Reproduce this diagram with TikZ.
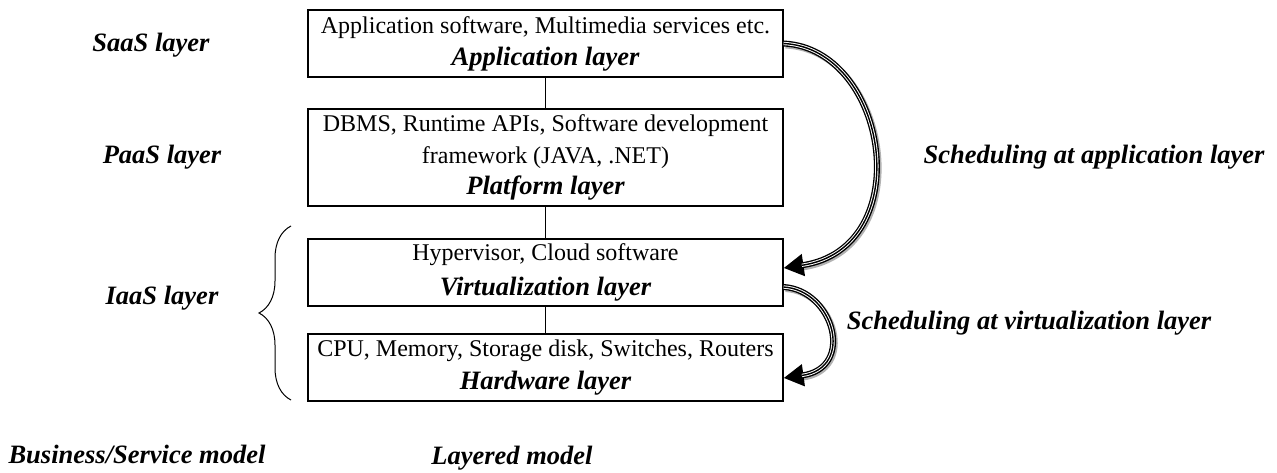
\documentclass[tikz,border=0pt]{standalone}
\usepackage{fontspec}
\setmainfont{Liberation Serif}
\usetikzlibrary{arrows.meta,decorations.pathreplacing}
\newcommand{\bitxt}[1]{{\fontsize{26.5}{31}\selectfont\bfseries\itshape #1}}
\tikzset{
  layerbox/.style={draw, line width=1.2pt, minimum width=475pt, inner sep=0pt, align=center,
    font=\fontsize{24}{32}\selectfont},
  lbl/.style={font=\fontsize{26.5}{30}\selectfont\bfseries\itshape, inner sep=0pt},
  link/.style={line width=1.2pt},
}
\newcommand{\schedarrow}[1]{%
  \draw[gray!60, line width=6pt, shorten >=17pt, transform canvas={shift={(2pt,-2pt)}}] #1;
  \draw[line width=6pt, -{Triangle[length=20pt,width=21pt]}] #1;
  \draw[white, line width=3.3pt, shorten >=18.5pt] #1;
  \draw[black, line width=1.4pt, shorten >=18.5pt] #1;
}
\begin{document}
\begin{tikzpicture}[x=1pt,y=-1pt]
\useasboundingbox (0,0) rectangle (1277,472);
\node[layerbox, minimum height=67pt] (app) at (545.5,43.5) {Application software, Multimedia services etc.\\ \bitxt{Application layer}};
\node[layerbox, minimum height=97pt, font=\fontsize{24}{31.5}\selectfont] (plat) at (545.5,157.5) {DBMS, Runtime APIs, Software development\\ framework (JAVA, .NET)\\ \bitxt{Platform layer}};
\node[layerbox, minimum height=67pt, font=\fontsize{24}{35}\selectfont] (virt) at (545.5,272.5) {Hypervisor, Cloud software\\ \bitxt{Virtualization layer}};
\node[layerbox, minimum height=67pt, font=\fontsize{24}{33}\selectfont] (hw) at (545.5,367.5) {CPU, Memory, Storage disk, Switches, Routers\\ \bitxt{Hardware layer}};
\draw[link] (app.south) -- (plat.north);
\draw[link] (plat.south) -- (virt.north);
\draw[link] (virt.south) -- (hw.north);
\node[lbl] (saas) at (151,45) {SaaS layer};
\node[lbl] (paas) at (162,157) {PaaS layer};
\node[lbl] (iaas) at (162,298) {IaaS layer};
\node[lbl] (bsm) at (137,454) {Business/Service model};
\node[lbl] (lm) at (512,458) {Layered model};
\node[lbl] (sapp) at (1094,157) {Scheduling at application layer};
\node[lbl] (svirt) at (1029,323) {Scheduling at virtualization layer};
\coordinate (bb) at (291,400);
\coordinate (bt) at (291,226);
\draw[line width=1pt, decorate, decoration={brace, amplitude=32pt, aspect=0.5}] (bb) -- (bt);
\coordinate (a1) at ([yshift=0pt]app.east);
\coordinate (a2) at ([yshift=4.5pt]virt.east);
\coordinate (b1) at ([yshift=-14.5pt]virt.east);
\coordinate (b2) at ([yshift=-10.5pt]hw.east);
\schedarrow{(a1) .. controls +(105,5) and +(135,-20) .. (a2)}
\schedarrow{(b1) .. controls +(50,3) and +(72,-10) .. (b2)}
\end{tikzpicture}
\end{document}
